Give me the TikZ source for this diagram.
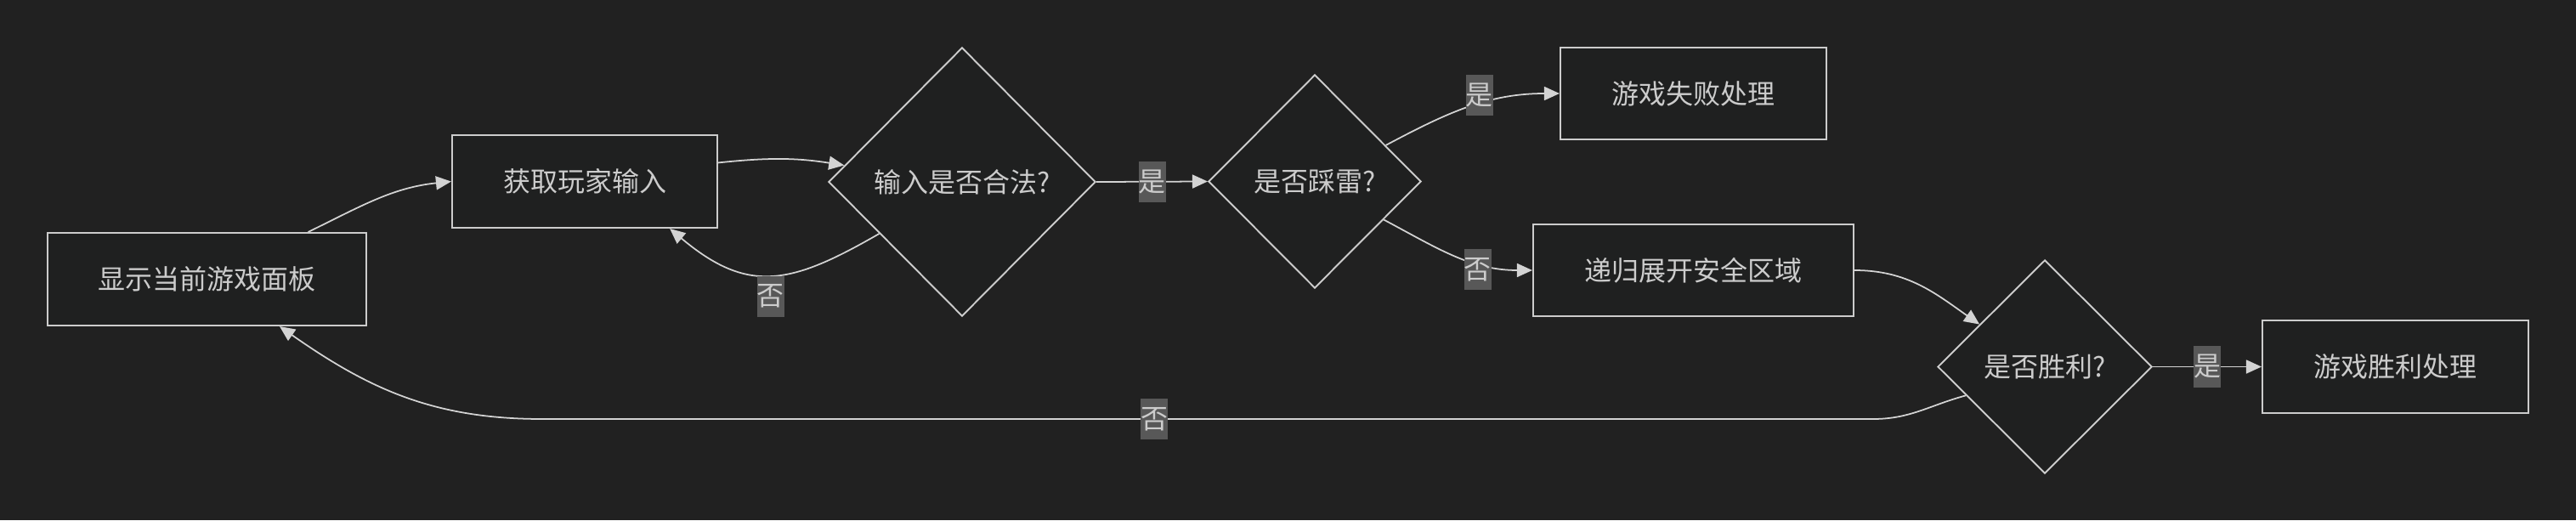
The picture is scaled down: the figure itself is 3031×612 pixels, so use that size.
\documentclass[tikz,border=0pt]{standalone}
\usepackage{fontspec}
\setmainfont{Noto Sans CJK SC}
\usetikzlibrary{arrows.meta,shapes.geometric}
\definecolor{canvas}{HTML}{212121}
\definecolor{boxfill}{HTML}{1F2020}
\definecolor{rim}{HTML}{CCCCCC}
\definecolor{ink}{HTML}{CCCCCC}
\definecolor{tag}{HTML}{585858}
\definecolor{wire}{HTML}{D3D3D3}
\newcommand{\diagfont}{\fontsize{9.1}{11}\selectfont}

\begin{document}
\begin{tikzpicture}[x=0.01cm,y=0.01cm,
  proc/.style={draw=rim,fill=boxfill,text=ink,line width=0.55pt,minimum height=1.09cm,inner sep=0pt,font=\diagfont},
  decision/.style={diamond,draw=rim,fill=boxfill,text=ink,line width=0.55pt,inner sep=0pt,font=\diagfont},
  lbl/.style={fill=tag,text=ink,inner sep=0pt,minimum width=0.32cm,minimum height=0.48cm,font=\diagfont},
  flow/.style={draw=wire,line width=0.5pt,-{Triangle[length=0.18cm,width=0.16cm]}}]
\fill[canvas] (0,0) rectangle (3031,-612);
\useasboundingbox (0,0) rectangle (3031,-612);
\node[proc,minimum width=3.75cm] (board) at (243.5,-328.5) {显示当前游戏面板};
\node[proc,minimum width=3.12cm] (input) at (688,-213.5) {获取玩家输入};
\node[decision,minimum width=3.14cm,minimum height=3.16cm] (valid) at (1132,-214) {输入是否合法?};
\node[decision,minimum width=2.50cm,minimum height=2.51cm] (mine) at (1547,-213.5) {是否踩雷?};
\node[proc,minimum width=3.13cm,minimum height=1.08cm] (fail) at (1992.5,-110) {游戏失败处理};
\node[proc,minimum width=3.77cm,minimum height=1.08cm] (expand) at (1992.5,-318) {递归展开安全区域};
\node[decision,minimum width=2.52cm,minimum height=2.51cm] (win) at (2406,-431.5) {是否胜利?};
\node[proc,minimum width=3.13cm] (victory) at (2818.5,-431.5) {游戏胜利处理};
\coordinate (dropR) at (2204,-493);
\coordinate (dropL) at (638,-493);
\draw[flow] (board.25) to[out=26,in=186] (input.west);
\draw[flow] (input.8) to[out=6,in=171] (valid.172);
\draw[flow] (valid.212) to[out=210,in=-40,looseness=1.25] node[lbl,below] {否} (input.331);
\draw[flow] (valid.east) -- node[lbl] {是} (mine.west);
\draw[flow] (mine.27) to[out=28,in=180] node[lbl,pos=0.56,yshift=0.1cm] {是} (fail.west);
\draw[flow] (mine.331) to[out=-28,in=180] node[lbl,pos=0.66,yshift=-0.07cm] {否} (expand.west);
\draw[flow] (expand.east) to[out=0,in=145] (win.147);
\draw[flow] (win.east) -- node[lbl] {是} (victory.west);
\draw[flow] (win.200) to[out=195,in=0] (dropR) -- node[lbl,pos=0.54] {否} (dropL) to[out=180,in=-35] (board.327);
\end{tikzpicture}
\end{document}
